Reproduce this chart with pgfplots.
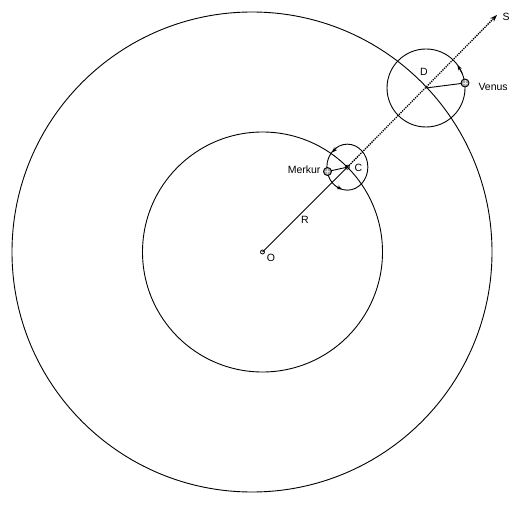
\documentclass[border=0pt]{standalone}
\usepackage{pgfplots}
\pgfplotsset{compat=1.18}
\usepackage{fontspec}
\setmainfont{Liberation Sans}
\usetikzlibrary{arrows.meta}
\begin{document}
\begin{tikzpicture}
\begin{axis}[
  scale only axis, width=522pt, height=504pt,
  xmin=0, xmax=522, ymin=0, ymax=504,
  hide axis, clip=false,
]
\path (rel axis cs:0,0) rectangle (rel axis cs:1,1);
% circles
\draw[line width=0.9pt] (axis cs:252,252) circle[radius=240];
\draw[line width=0.9pt] (axis cs:262.5,252) circle[radius=120];
\draw[line width=0.9pt] (axis cs:426,416) circle[radius=39];
\draw[line width=0.9pt] (axis cs:347.35,336.85) ellipse[x radius=20.5, y radius=23];
% O to C
\addplot[line width=0.9pt, no marks] coordinates {(262.5,252) (347.35,336.85)};
% dotted line C to S
\addplot[line width=1.3pt, densely dotted, no marks, -{Stealth[length=7pt,width=5pt]}] coordinates {(347.35,336.85) (497,489)};
% radius lines
\addplot[line width=0.9pt, no marks] coordinates {(347.35,336.85) (327.5,332.5)};
\addplot[line width=0.9pt, no marks] coordinates {(426,416) (465,421)};
% motion arrows
\addplot[line width=0.9pt, no marks, -{Stealth[length=5pt,width=4pt]}] coordinates {(462.16,430.61) (457.55,438.92)};
\addplot[line width=0.9pt, no marks, -{Stealth[length=5pt,width=4pt]}] coordinates {(336.2,356.0) (332.4,351.6)};
\addplot[line width=0.9pt, no marks, -{Stealth[length=5pt,width=4pt]}] coordinates {(337.1,317.0) (342.0,314.6)};
% points
\addplot[only marks, mark=o, mark size=2pt, mark options={line width=0.8pt, fill=white}] coordinates {(262.5,252) (347.35,336.85)};
\addplot[only marks, mark=*, mark size=4pt, mark options={line width=0.9pt, draw=black, fill=gray!70}] coordinates {(327.5,332.5) (465,421)};
\addplot[only marks, mark=+, mark size=2.5pt, mark options={line width=0.4pt, draw=gray!20}] coordinates {(327.5,332.5) (465,421)};
% labels
\node[font=\fontsize{10.5}{12}\selectfont] at (axis cs:506,487) {S};
\node[font=\fontsize{10.5}{12}\selectfont] at (axis cs:424,432) {D};
\node[font=\fontsize{10.5}{12}\selectfont] at (axis cs:358.5,336.5) {C};
\node[font=\fontsize{10.5}{12}\selectfont] at (axis cs:305,284) {R};
\node[font=\fontsize{10.5}{12}\selectfont] at (axis cs:271,246) {O};
\node[font=\fontsize{10.5}{12}\selectfont, anchor=west] at (axis cs:475,417) {Venus};
\node[font=\fontsize{10.5}{12}\selectfont, anchor=east] at (axis cs:324,334) {Merkur};
\end{axis}
\end{tikzpicture}
\end{document}
